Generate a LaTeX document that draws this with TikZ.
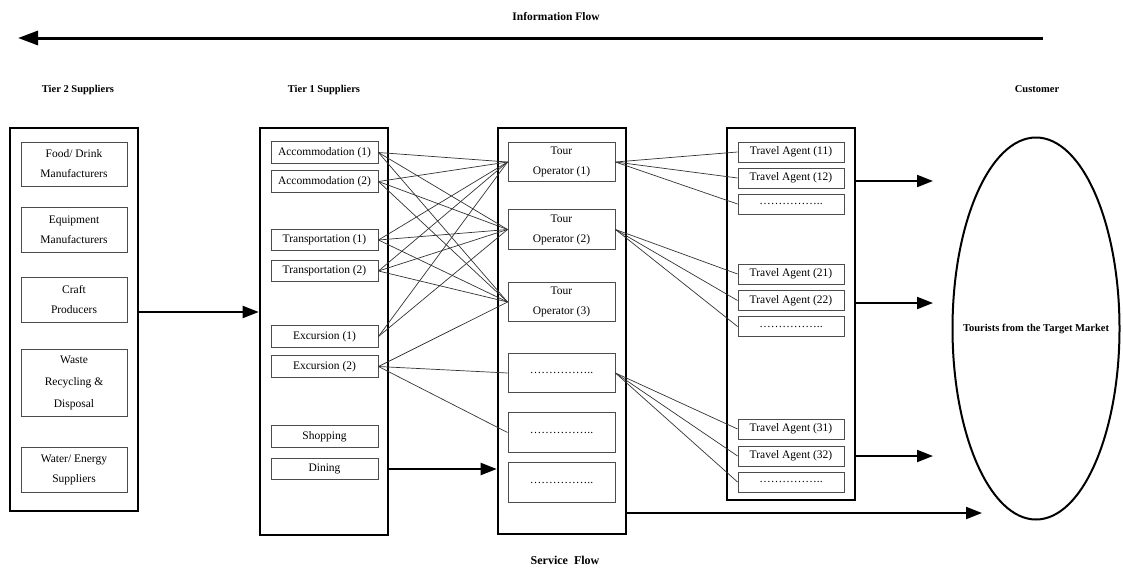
\documentclass[tikz,border=0pt]{standalone}
\usepackage{fontspec}
\setmainfont{Liberation Serif}
\usetikzlibrary{arrows.meta,shapes.geometric}
\begin{document}
\begin{tikzpicture}[x=1pt,y=-1pt,
  obox/.style={draw=black,line width=2.6pt,minimum width=128pt,inner sep=0pt},
  ibox/.style={draw=black!70,line width=0.9pt,minimum width=106pt,inner sep=0pt,
               align=center,font=\fontsize{11.5}{20}\selectfont},
  hdr/.style={font=\bfseries\fontsize{10.5}{12}\selectfont},
  conn/.style={draw=black!80,line width=0.7pt},
  arr/.style={line width=2pt,-{Triangle[length=16pt,width=12pt]}},
]
\useasboundingbox (0,0) rectangle (1123,570);

% headings
\node[hdr,font=\bfseries\fontsize{11.5}{13}\selectfont] (hinfo) at (556,17) {Information Flow};
\node[hdr] (htwo) at (78,90) {Tier 2 Suppliers};
\node[hdr] (hone) at (324,90) {Tier 1 Suppliers};
\node[hdr] (hcust) at (1037,89) {Customer};
\node[hdr,font=\bfseries\fontsize{12}{14}\selectfont] (hserv) at (565,560) {Service\ \ Flow};

% information flow arrow
\coordinate (ifrom) at (1043,38);
\coordinate (ito) at (18,38);
\draw[line width=3pt,-{Triangle[length=20pt,width=14pt]}] (ifrom) -- (ito);

% column frames
\node[obox,minimum height=383pt] (t2) at (74,319.5) {};
\node[obox,minimum height=407pt] (t1) at (324,331.5) {};
\node[obox,minimum height=406pt] (to) at (562,331) {};
\node[obox,minimum height=372pt] (ta) at (791,314) {};

% tier 2 suppliers
\node[ibox,minimum height=44pt] (food) at (74,164) {Food/ Drink\\Manufacturers};
\node[ibox,minimum height=45pt] (equip) at (74,229.5) {Equipment\\Manufacturers};
\node[ibox,minimum height=45pt] (craft) at (74,299.5) {Craft\\Producers};
\node[ibox,minimum height=67pt,font=\fontsize{11.5}{22}\selectfont] (waste) at (74,382.5) {Waste\\Recycling \&\\Disposal};
\node[ibox,minimum height=45pt] (water) at (74,469.5) {Water/ Energy\\Suppliers};

% tier 1 suppliers
\begin{scope}[every node/.append style={ibox,minimum width=107pt,minimum height=21.5pt}]
\node (acc1) at (324.5,152.5) {Accommodation (1)};
\node (acc2) at (324.5,181.5) {Accommodation (2)};
\node (tr1) at (324.5,240) {Transportation (1)};
\node (tr2) at (324.5,271) {Transportation (2)};
\node (ex1) at (324.5,336.5) {Excursion (1)};
\node (ex2) at (324.5,366.5) {Excursion (2)};
\node (shop) at (324.5,436.5) {Shopping};
\node (dine) at (324.5,469) {Dining};
\end{scope}

% tour operators
\begin{scope}[every node/.append style={ibox,minimum width=107pt,minimum height=39.5pt}]
\node (op1) at (561.5,162) {Tour\\Operator (1)};
\node (op2) at (561.5,229.5) {Tour\\Operator (2)};
\node (op3) at (561.5,302) {Tour\\Operator (3)};
\node (op4) at (561.5,373) {……………..};
\node (op5) at (561.5,432.5) {……………..};
\node (op6) at (561.5,482.5) {……………..};
\end{scope}

% travel agents
\begin{scope}[every node/.append style={ibox,minimum height=20pt}]
\node (ag11) at (791,152) {Travel Agent (11)};
\node (ag12) at (791,178) {Travel Agent (12)};
\node (ag13) at (791,204) {……………..};
\node (ag21) at (791,274) {Travel Agent (21)};
\node (ag22) at (791,300.5) {Travel Agent (22)};
\node (ag23) at (791,326.5) {……………..};
\node (ag31) at (791,429) {Travel Agent (31)};
\node (ag32) at (791,456) {Travel Agent (32)};
\node (ag33) at (791,482) {……………..};
\end{scope}

% customer
\node[draw,ellipse,line width=2pt,minimum width=167pt,minimum height=382pt,inner sep=0pt] (cust) at (1036,328.5) {};
\node[font=\bfseries\fontsize{10.5}{12}\selectfont] (custtext) at (cust.center) {Tourists from the Target Market};

% links between tier 1 suppliers and tour operators
\foreach \a/\b in {acc1/op1,acc1/op2,acc1/op3,acc2/op1,acc2/op2,acc2/op3,
                   tr1/op1,tr1/op2,tr1/op3,tr2/op1,tr2/op2,tr2/op3,
                   ex1/op1,ex1/op2,ex2/op3,ex2/op4,ex2/op5}
  \draw[conn] (\a.east) -- (\b.west);

% links between tour operators and travel agents
\foreach \a/\b in {op1/ag11,op1/ag12,op1/ag13,op2/ag21,op2/ag22,op2/ag23,
                   op4/ag31,op4/ag32,op4/ag33}
  \draw[conn] (\a.east) -- (\b.west);

% service flow arrows
\coordinate (ya) at (0,312);
\draw[arr] (t2.east |- ya) -- (t1.west |- ya);
\draw[arr] (t1.east |- dine) -- (to.west |- dine);
\coordinate (c1) at (933,181);
\coordinate (c2) at (933,303);
\coordinate (c3) at (933,456);
\coordinate (c4) at (982,513);
\draw[arr] (ta.east |- c1) -- (c1);
\draw[arr] (ta.east |- c2) -- (c2);
\draw[arr] (ta.east |- c3) -- (c3);
\draw[arr] (to.east |- c4) -- (c4);
\end{tikzpicture}
\end{document}
